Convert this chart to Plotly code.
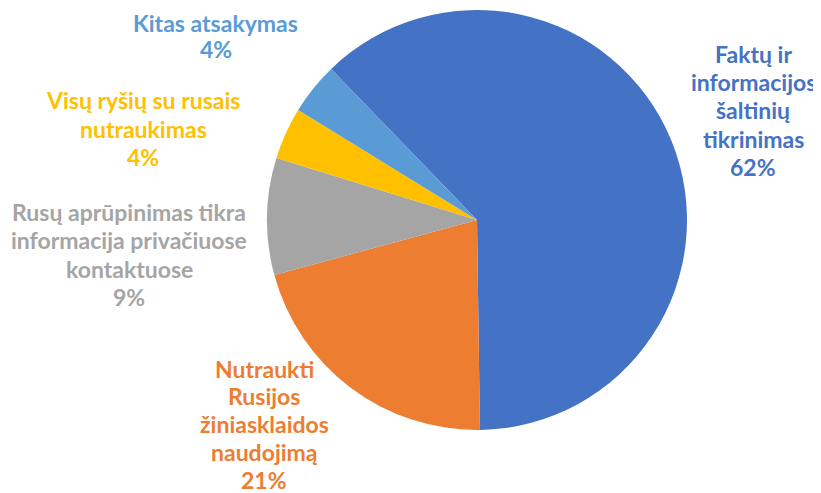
import plotly.graph_objects as go

labels = ["Faktų ir informacijos šaltinių tikrinimas",
          "Nutraukti Rusijos žiniasklaidos naudojimą",
          "Rusų aprūpinimas tikra informacija privačiuose kontaktuose",
          "Visų ryšių su rusais nutraukimas",
          "Kitas atsakymas"]
values = [62, 21, 9, 4, 4]
colors = ["#4472C4", "#ED7D31", "#A5A5A5", "#FFC000", "#5B9BD5"]
label_lines = [["Faktų ir", "informacijos", "šaltinių", "tikrinimas"],
               ["Nutraukti", "Rusijos", "žiniasklaidos", "naudojimą"],
               ["Rusų aprūpinimas tikra", "informacija privačiuose", "kontaktuose"],
               ["Visų ryšių su rusais", "nutraukimas"],
               ["Kitas atsakymas"]]
# label block: center x, first-line baseline and line pitch (window pixels)
label_pos = [(753, 61.7, 28.3), (264, 376.5, 27.8), (129, 220, 28.3),
             (143, 108.3, 28.3), (216, 30.7, 26.8)]
OFF = 8  # page body margin

W, H = 821, 493
fig = go.Figure(go.Pie(
    labels=labels, values=values, sort=False, direction="clockwise",
    rotation=-44, textinfo="none", hoverinfo="label+percent",
    marker=dict(colors=colors, line=dict(width=0)),
    domain=dict(x=[(267 - OFF) / W, (687 - OFF) / W],
                y=[(H - (430 - OFF)) / H, (H - (10 - OFF)) / H]),
    showlegend=False,
))

for lines, v, c, (px, py, pitch) in zip(label_lines, values, colors, label_pos):
    all_lines = lines + [f"{v}%"]
    for i, ln in enumerate(all_lines):
        base = py + i * pitch
        yc = base - 8 - OFF
        fig.add_annotation(
            x=(px - OFF) / W, y=1 - yc / H, xref="paper", yref="paper",
            text=ln, showarrow=False, align="center",
            xanchor="center", yanchor="middle",
            font=dict(family="Lato", size=23, color=c, weight="bold"),
        )

fig.update_layout(width=W, height=H, margin=dict(l=0, r=0, t=0, b=0),
                  paper_bgcolor="white", plot_bgcolor="white")
fig.write_html("out.html")
